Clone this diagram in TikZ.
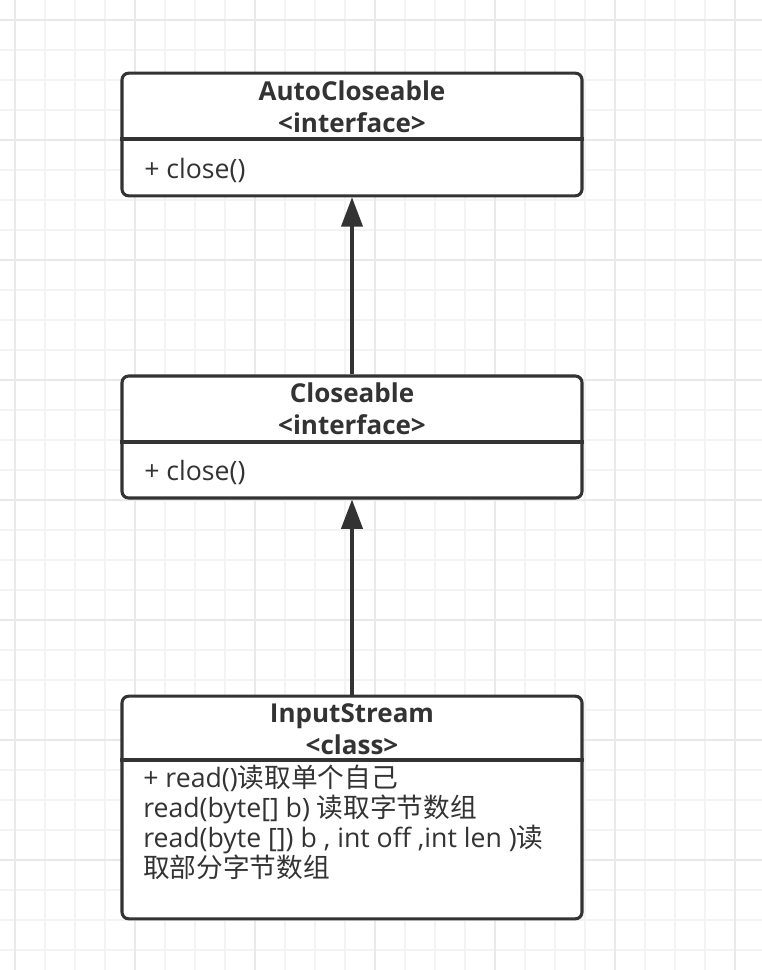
\documentclass[tikz,border=0pt]{standalone}
\usepackage{fontspec}
\setmainfont{Open Sans}
\newfontfamily\cjk{Noto Sans CJK SC}
\usepackage{xcolor}
\usetikzlibrary{arrows.meta, positioning, calc}
\definecolor{umlgray}{RGB}{51,51,51}
\definecolor{gridminor}{RGB}{243,243,243}
\definecolor{gridmajor}{RGB}{233,233,233}

\tikzset{
  classbox/.style={draw=umlgray, line width=2.3pt, rounded corners=5pt, fill=white,
    minimum width=345pt, inner sep=0pt},
  classtitle/.style={font=\fontsize{19.5}{24}\selectfont\bfseries, align=center, text=umlgray},
  member/.style={font=\fontsize{20}{22.5}\selectfont, align=left, anchor=west, text=umlgray, inner sep=0pt},
  divider/.style={draw=umlgray, line width=2.3pt},
  inherit/.style={draw=umlgray, line width=2.3pt, -{Triangle[length=22pt,width=16pt]}},
}

\begin{document}
\begin{tikzpicture}[x=0.75pt,y=-0.75pt]
\useasboundingbox (0,0) rectangle (762,970);
% grid paper
\fill[white] (0,0) rectangle (762,970);
\foreach \x in {15,45,...,765}
  \draw[gridminor, line width=1.3pt] (\x,0) -- (\x,970);
\foreach \y in {20,50,...,970}
  \draw[gridminor, line width=1.3pt] (0,\y) -- (762,\y);
\foreach \x in {15,135,...,765}
  \draw[gridmajor, line width=1.3pt] (\x,0) -- (\x,970);
\foreach \y in {20,140,...,970}
  \draw[gridmajor, line width=1.3pt] (0,\y) -- (762,\y);

% AutoCloseable
\node[classbox, minimum height=92pt] (auto) at (352,134.5) {};
\node[classtitle] (autotitle) at (352,107) {AutoCloseable\\<interface>};
\draw[divider] (auto.west |- 0,139) -- (auto.east |- 0,139);
\node[member] (automember) at (144,170) {+ close()};

% Closeable
\node[classbox, minimum height=91.5pt] (close) at (352,437) {};
\node[classtitle] (closetitle) at (352,409) {Closeable\\<interface>};
\draw[divider] (close.west |- 0,442) -- (close.east |- 0,442);
\node[member] (closemember) at (144,472) {+ close()};

% InputStream
\node[classbox, minimum height=167pt] (input) at (352,807.5) {};
\node[classtitle] (inputtitle) at (352,729.5) {InputStream\\<class>};
\draw[divider] (input.west |- 0,760) -- (input.east |- 0,760);
\node[member] (inputmember) at (143,822.5) {+ read(){\cjk 读取单个自己}\\
  read(byte[] b) {\cjk 读取字节数组}\\
  read(byte []) b , int off ,int len ){\cjk 读}\\
  {\cjk 取部分字节数组}};

% inheritance
\draw[inherit] (close.north) -- (auto.south);
\draw[inherit] (input.north) -- (close.south);
\end{tikzpicture}
\end{document}
